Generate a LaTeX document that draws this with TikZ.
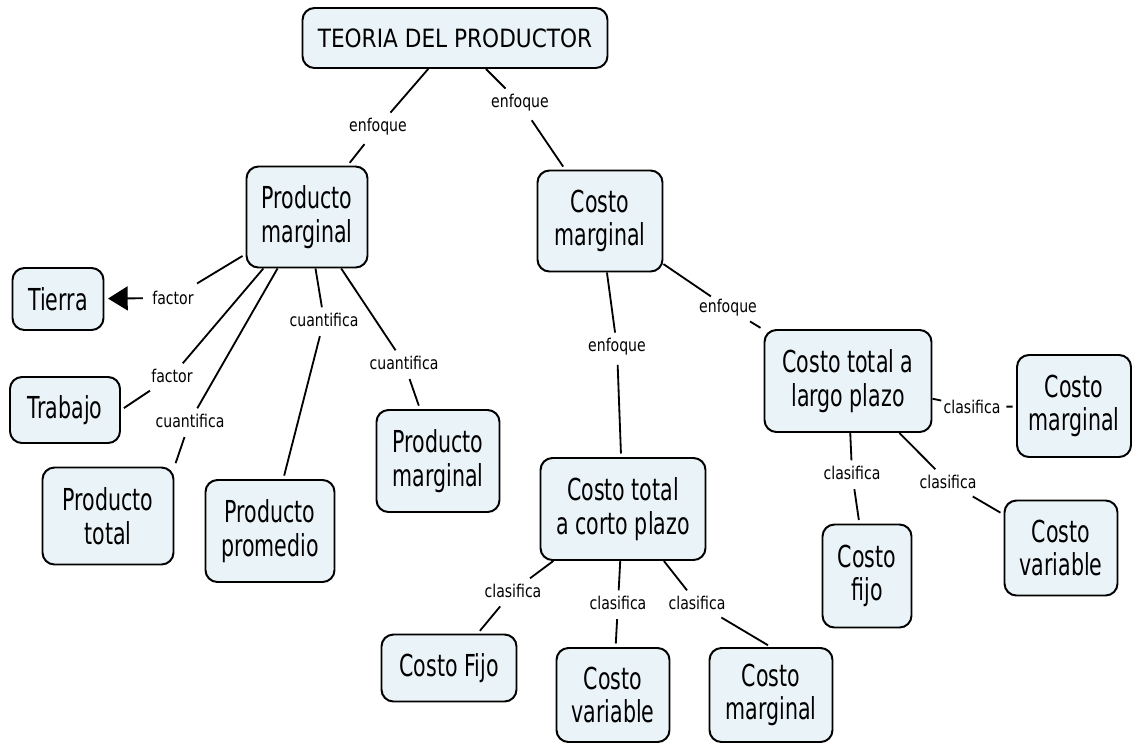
\documentclass[tikz,border=0pt]{standalone}
\usepackage{fontspec}
\setmainfont{DejaVu Sans}[FakeStretch=0.68]
\newfontfamily\linkfont{DejaVu Sans}[FakeStretch=0.8]
\newfontfamily\titlefont{DejaVu Sans}[FakeStretch=0.86]
\usetikzlibrary{arrows.meta}
\definecolor{conceptfill}{RGB}{234,243,247}
\tikzset{
  concept/.style={draw,line width=1.4pt,rounded corners=8.5pt,fill=conceptfill,align=center,
    font=\fontsize{21.5}{24}\selectfont,inner sep=0pt},
  sz/.style 2 args={minimum width=#1*0.025cm,minimum height=#2*0.025cm},
  phrase/.style={font=\linkfont\fontsize{12.5}{14}\selectfont,inner sep=4pt},
  link/.style={line width=1.3pt,shorten <=2.5pt,shorten >=2.5pt}
}

\begin{document}
\begin{tikzpicture}[x=0.025cm,y=-0.025cm]
\useasboundingbox (0,0) rectangle (1133,744);

\node[concept,sz={305}{60},font=\titlefont\fontsize{17.9}{20}\selectfont] (teoria) at (455,38) {TEORIA DEL PRODUCTOR};
\node[concept,sz={121}{101}] (prodmarg) at (307,217) {Producto\\marginal};
\node[concept,sz={125}{101}] (costmarg) at (600,221) {Costo\\marginal};
\node[concept,sz={91}{62}] (tierra) at (58,299) {Tierra};
\node[concept,sz={110}{66}] (trabajo) at (65,410) {Trabajo};
\node[concept,sz={131}{97}] (prodtot) at (108,516) {Producto\\total};
\node[concept,sz={129}{102}] (prodprom) at (270,531) {Producto\\promedio};
\node[concept,sz={123}{102}] (prodmargb) at (438,461) {Producto\\marginal};
\node[concept,sz={165}{102}] (ctcorto) at (623,509) {Costo total\\a corto plazo};
\node[concept,sz={167}{102}] (ctlargo) at (848,381) {Costo total a\\largo plazo};
\node[concept,sz={114}{102}] (cmlargo) at (1074,406) {Costo\\marginal};
\node[concept,sz={89}{103}] (cflargo) at (867,576) {Costo\\fijo};
\node[concept,sz={113}{95}] (cvlargo) at (1061,548) {Costo\\variable};
\node[concept,sz={135}{67}] (cfcorto) at (449,668) {Costo Fijo};
\node[concept,sz={113}{94}] (cvcorto) at (613,695) {Costo\\variable};
\node[concept,sz={123}{94}] (cmcorto) at (771,695) {Costo\\marginal};

\node[phrase] (e1) at (378,127) {enfoque};
\node[phrase] (e2) at (520,103) {enfoque};
\node[phrase] (f1) at (173,298) {factor};
\node[phrase] (f2) at (172,376) {factor};
\node[phrase] (q1) at (190,421) {cuantifica};
\node[phrase] (q2) at (324,320) {cuantifica};
\node[phrase] (q3) at (404,363) {cuantifica};
\node[phrase] (e3) at (617,347) {enfoque};
\node[phrase,inner sep=2pt] (e4) at (728,308) {enfoque};
\node[phrase,inner xsep=1.5pt] (c1) at (972,407) {clasifica};
\node[phrase] (c2) at (852,473) {clasifica};
\node[phrase] (c3) at (948,482) {clasifica};
\node[phrase] (c4) at (513,591) {clasifica};
\node[phrase] (c5) at (618,603) {clasifica};
\node[phrase] (c6) at (697,603) {clasifica};

\draw[link] (teoria) -- (e1) -- (prodmarg);
\draw[link] (teoria) -- (e2) -- (costmarg);
\draw[link] (prodmarg) -- (f1);
\draw[link,-{Triangle[length=14pt,width=17pt]}] (f1) -- (tierra);
\draw[link] (prodmarg) -- (f2) -- (trabajo.east);
\draw[link] (prodmarg) -- (q1) -- (prodtot.north east);
\draw[link] (prodmarg) -- (q2) -- (prodprom);
\draw[link] (prodmarg) -- (q3) -- (prodmargb);
\draw[link] (costmarg) -- (e3) -- (ctcorto);
\draw[link] (costmarg) -- (e4) -- (ctlargo);
\draw[link] (ctlargo) -- (c1) -- (cmlargo);
\draw[link] (ctlargo) -- (c2) -- (cflargo);
\draw[link] (ctlargo) -- (c3) -- (cvlargo);
\draw[link] (ctcorto) -- (c4) -- (cfcorto);
\draw[link] (ctcorto) -- (c5) -- (cvcorto);
\draw[link] (ctcorto) -- (c6) -- (cmcorto.north);
\end{tikzpicture}
\end{document}
